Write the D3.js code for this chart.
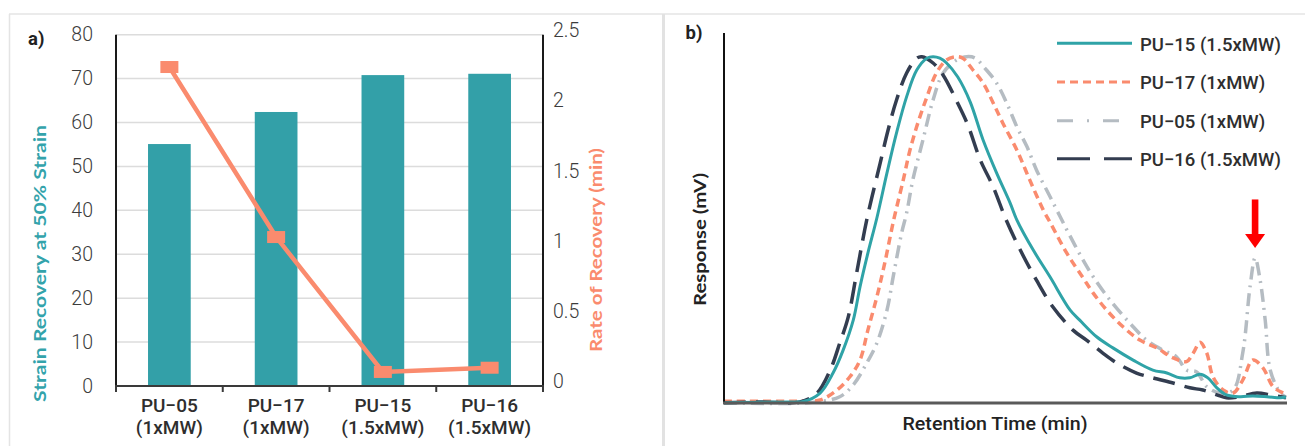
<!DOCTYPE html>
<html><head><meta charset="utf-8">
<script src="https://cdn.jsdelivr.net/npm/d3@7"></script>
<style>body{margin:0;background:#fff}svg{display:block}</style>
</head><body>
<svg id="c" width="1305" height="446"></svg>
<script>
// ---------- Panel a) data ----------
const categories = ["PU−05", "PU−17", "PU−15", "PU−16"];
const categorySub = ["(1xMW)", "(1xMW)", "(1.5xMW)", "(1.5xMW)"];
const strainRecovery = [55.1, 62.4, 70.8, 71.1];      // left axis, bars
const rateOfRecovery = [2.27, 1.06, 0.10, 0.13];      // right axis, line
const leftTicks = [0, 10, 20, 30, 40, 50, 60, 70, 80];
const rightTicks = [0, 0.5, 1, 1.5, 2, 2.5];

// ---------- Panel b) data (retention time, response; arbitrary units) ----------
const pu15 = [[0,0.1],[11.7,0.3],[14.1,0.4],[17.1,2.7],[19.4,8.1],[21.2,14.3],[23.0,22.4],[24.2,31.4],[25.6,40.5],[27.2,50.0],[29.0,62.2],[30.7,73.0],[32.5,82.8],[34.3,90.0],[36.1,93.2],[37.2,93.6],[38.4,93.2],[39.6,91.9],[41.6,88.1],[43.8,81.4],[46.1,71.1],[48.5,62.2],[50.9,54.1],[52.1,49.5],[55.0,41.4],[58.0,34.1],[61.6,25.1],[63.3,22.4],[66.3,17.9],[69.2,14.9],[72.8,11.6],[76.3,8.9],[78.8,8.1],[81.1,6.8],[82.9,6.8],[84.7,7.8],[86.1,6.8],[87.7,4.1],[89.4,2.2],[91.8,1.7],[94.1,1.9],[96.6,1.7],[99.0,1.4],[100,1.6]];
const pu17 = [[0,0.5],[13.5,0.5],[17.1,0.8],[20.1,3.5],[22.4,7.1],[24.2,11.6],[25.6,19.7],[27.2,28.7],[28.6,37.8],[30.2,49.5],[31.9,60.3],[33.1,68.4],[34.5,75.7],[36.1,82.7],[37.8,89.2],[39.6,92.7],[41.3,93.6],[42.5,93.2],[44.3,90.0],[46.1,86.5],[47.9,81.1],[49.6,75.7],[52.1,68.4],[54.4,60.3],[56.8,52.2],[58.0,48.9],[61.0,40.5],[63.9,33.8],[65.7,29.7],[68.1,25.1],[71.0,20.6],[74.0,17.0],[77.0,14.9],[79.9,12.2],[82.3,11.2],[83.5,13.5],[84.7,16.4],[85.9,13.5],[87.0,7.1],[88.8,3.5],[90.6,2.7],[92.3,6.2],[94.1,11.6],[95.9,9.5],[97.7,4.4],[99.5,2.7],[100,2.4]];
const pu05 = [[0,0.1],[15.3,0.1],[20.6,1.7],[23.0,4.9],[25.4,10.8],[27.2,16.2],[29.0,25.1],[30.1,34.1],[31.6,45.9],[32.5,51.4],[33.6,60.3],[35.4,71.1],[37.2,81.9],[39.0,89.2],[41.4,92.7],[43.2,93.6],[44.7,93.2],[46.7,90.0],[48.5,86.5],[50.3,81.1],[52.1,74.7],[53.9,69.3],[55.6,63.0],[58.0,55.8],[59.8,50.4],[61.0,46.8],[63.9,38.6],[65.7,34.1],[68.7,27.8],[72.8,20.6],[75.2,17.0],[78.1,14.3],[80.5,12.5],[82.3,8.9],[84.1,8.4],[85.9,4.4],[88.3,2.7],[90.6,3.5],[92.3,13.5],[93.6,31.4],[94.5,39.2],[95.4,33.2],[96.3,22.4],[97.2,8.9],[99.0,2.7],[100,1.6]];
const pu16 = [[0,0.1],[6.4,0.3],[13.5,0.3],[16.5,2.6],[18.9,8.9],[20.6,16.2],[22.1,23.2],[23.6,35.1],[25.4,49.5],[27.8,64.9],[29.2,73.8],[30.7,81.9],[32.5,89.2],[34.3,93.2],[35.2,93.6],[37.2,91.9],[39.0,88.6],[41.4,81.6],[43.4,75.1],[45.6,65.7],[47.9,58.4],[50.2,49.5],[52.7,41.4],[55.6,33.2],[58.5,26.0],[62.1,19.7],[64.5,17.0],[67.4,13.5],[69.9,10.8],[73.4,8.1],[76.3,6.8],[79.9,5.4],[82.9,4.1],[85.2,3.5],[87.7,2.2],[89.4,1.4],[91.8,1.7],[94.8,2.7],[97.2,2.2],[100,1.4]];
const seriesNames = ["PU−15 (1.5xMW)", "PU−17 (1xMW)", "PU−05 (1xMW)", "PU−16 (1.5xMW)"];
const seriesData = [pu15, pu17, pu05, pu16];
const seriesColors = ["#2fa3a7", "#fa8b6e", "#b5bcc2", "#333d50"];
const seriesDash = [null, "8,5", "13,6,2,6", "22,10"];
const legendDash = [null, "8,5", "16,14,2,14", "33,14"];
const arrowTarget = [94.5, 39.2]; // small-molecule peak of PU-05

const FONT = "Roboto, 'Liberation Sans', sans-serif";
const TITLE_FONT = "Lato, 'Open Sans', sans-serif";
const svg = d3.select("#c");

// frame
svg.append("line").attr("x1", 9).attr("x2", 1305).attr("y1", 14).attr("y2", 14).attr("stroke", "#e4e4e4").attr("stroke-width", 1.5);
svg.append("line").attr("x1", 9.5).attr("x2", 9.5).attr("y1", 14).attr("y2", 446).attr("stroke", "#e4e4e4").attr("stroke-width", 1.5);
svg.append("line").attr("x1", 663.5).attr("x2", 663.5).attr("y1", 14).attr("y2", 446).attr("stroke", "#e2e2e2").attr("stroke-width", 3);

// ================= Panel a =================
const xA = d3.scaleBand().domain(categories).range([116, 543]).padding(0);
const yL = d3.scaleLinear().domain([0, 80]).range([386, 34.7]);
const yR = d3.scaleLinear().domain([0, 2.5]).range([386, 34.7]);
const gA = svg.append("g");

gA.selectAll(".grid").data(leftTicks.filter(d => d > 0)).join("line")
  .attr("x1", 116).attr("x2", 543).attr("y1", d => yL(d)).attr("y2", d => yL(d))
  .attr("stroke", "#dcdcdc").attr("stroke-width", 1.5);

const bw = xA.bandwidth();
gA.selectAll(".bar").data(strainRecovery).join("rect")
  .attr("x", (d, i) => xA(categories[i]) + bw * 0.3)
  .attr("width", bw * 0.4)
  .attr("y", d => yL(d)).attr("height", d => yL(0) - yL(d))
  .attr("fill", "#33a0a8");

// axes lines
gA.append("line").attr("x1", 116).attr("x2", 116).attr("y1", 34.7).attr("y2", 392).attr("stroke", "#1a1a1a").attr("stroke-width", 2);
gA.append("line").attr("x1", 543).attr("x2", 543).attr("y1", 34.7).attr("y2", 392).attr("stroke", "#1a1a1a").attr("stroke-width", 2);
gA.append("line").attr("x1", 115).attr("x2", 544).attr("y1", 386).attr("y2", 386).attr("stroke", "#3a3a3a").attr("stroke-width", 2.2);
const bounds = categories.map(c => xA(c)).concat([xA.range()[1]]);
gA.selectAll(".xt").data(bounds).join("line")
  .attr("x1", d => d).attr("x2", d => d).attr("y1", 386).attr("y2", 392)
  .attr("stroke", "#3a3a3a").attr("stroke-width", 2);

// left tick labels
const axL = gA.append("g").attr("transform", "translate(116,0)")
  .call(d3.axisLeft(yL).tickValues(leftTicks).tickSize(0).tickPadding(23).tickFormat(d3.format("")));
axL.select(".domain").remove();
axL.selectAll("text").attr("font-family", FONT).attr("font-size", 19.5).attr("font-weight", 300).attr("fill", "#3c3c3c");
// right tick labels
const axR = gA.append("g").attr("transform", "translate(543,0)")
  .call(d3.axisRight(yR).tickValues(rightTicks).tickSize(0).tickPadding(10).tickFormat(d3.format("")));
axR.select(".domain").remove();
axR.selectAll("text").attr("font-family", FONT).attr("font-size", 19.5).attr("font-weight", 300).attr("fill", "#3c3c3c").attr("dy", "0.1em");

// category labels
const catG = gA.selectAll(".cat").data(categories).join("g")
  .attr("transform", c => `translate(${xA(c) + bw / 2},0)`);
catG.append("text").attr("y", 411.5).attr("text-anchor", "middle").text(d => d)
  .attr("font-family", FONT).attr("font-size", 19).attr("font-weight", 500).attr("fill", "#2e2e2e");
catG.append("text").attr("y", 433.5).attr("text-anchor", "middle").text((d, i) => categorySub[i])
  .attr("font-family", FONT).attr("font-size", 19).attr("font-weight", 500).attr("fill", "#2e2e2e");

// line series
const lineA = d3.line().x((d, i) => xA(categories[i]) + bw / 2).y(d => yR(d));
gA.append("path").datum(rateOfRecovery).attr("d", lineA)
  .attr("fill", "none").attr("stroke", "#fa8b6e").attr("stroke-width", 4.5);
gA.selectAll(".mk").data(rateOfRecovery).join("rect")
  .attr("x", (d, i) => xA(categories[i]) + bw / 2 - 9).attr("y", d => yR(d) - 6)
  .attr("width", 18).attr("height", 12).attr("fill", "#fa8b6e");

// titles
gA.append("text").attr("transform", "translate(46,263.5) rotate(-90)").attr("text-anchor", "middle")
  .attr("font-family", TITLE_FONT).attr("font-weight", 700).attr("font-size", 17.5).attr("fill", "#33a3ab")
  .attr("textLength", 277).attr("lengthAdjust", "spacingAndGlyphs")
  .text("Strain Recovery at 50% Strain");
gA.append("text").attr("transform", "translate(602,250) rotate(-90)").attr("text-anchor", "middle")
  .attr("font-family", TITLE_FONT).attr("font-weight", 700).attr("font-size", 17.5).attr("fill", "#fa8b6e")
  .attr("textLength", 204).attr("lengthAdjust", "spacingAndGlyphs")
  .text("Rate of Recovery (min)");
gA.append("text").attr("x", 28).attr("y", 45).attr("font-family", FONT).attr("font-weight", 700)
  .attr("font-size", 18.5).attr("fill", "#222").text("a)");

// ================= Panel b =================
const xB = d3.scaleLinear().domain([0, 100]).range([724, 1286]);
const yB = d3.scaleLinear().domain([0, 100]).range([403, 33]);
const gB = svg.append("g");

const lineB = d3.line().x(d => xB(d[0])).y(d => yB(d[1])).curve(d3.curveCatmullRom.alpha(0.5));
const drawOrder = [2, 1, 3, 0];
drawOrder.forEach(i => {
  gB.append("path").datum(seriesData[i]).attr("d", lineB)
    .attr("fill", "none").attr("stroke", seriesColors[i])
    .attr("stroke-width", i === 0 ? 3 : 3.5)
    .attr("stroke-dasharray", seriesDash[i])
    .attr("stroke-linejoin", "round");
});

// axes
gB.append("line").attr("x1", 724).attr("x2", 724).attr("y1", 33).attr("y2", 404).attr("stroke", "#111").attr("stroke-width", 2);
gB.append("line").attr("x1", 723).attr("x2", 1287).attr("y1", 403).attr("y2", 403).attr("stroke", "#5a5a5a").attr("stroke-width", 3);

// legend
const legY = [43.3, 82, 120.7, 158.7];
seriesNames.forEach((n, i) => {
  gB.append("line").attr("x1", 1057).attr("x2", 1132).attr("y1", legY[i]).attr("y2", legY[i])
    .attr("stroke", seriesColors[i]).attr("stroke-width", 3).attr("stroke-dasharray", legendDash[i]);
  gB.append("text").attr("x", 1140).attr("y", legY[i] + 7.4).text(n)
    .attr("font-family", FONT).attr("font-size", 18.5).attr("font-weight", 500).attr("fill", "#2e2e2e");
});

// red arrow pointing to PU-05 late peak
const ax = xB(arrowTarget[0]), tipY = yB(arrowTarget[1]) - 10;
gB.append("rect").attr("x", ax - 3.3).attr("y", tipY - 48.5).attr("width", 6.6).attr("height", 36).attr("fill", "#ff0000");
gB.append("path").attr("d", `M${ax - 10},${tipY - 14} L${ax + 10},${tipY - 14} L${ax},${tipY} Z`).attr("fill", "#ff0000");

// titles
gB.append("text").attr("transform", "translate(706,239.5) rotate(-90)").attr("text-anchor", "middle")
  .attr("font-family", TITLE_FONT).attr("font-weight", 700).attr("font-size", 17.5).attr("fill", "#222")
  .attr("textLength", 133).attr("lengthAdjust", "spacingAndGlyphs")
  .text("Response (mV)");
gB.append("text").attr("x", 995).attr("y", 430).attr("text-anchor", "middle")
  .attr("font-family", FONT).attr("font-weight", 500).attr("font-size", 19).attr("fill", "#222")
  .attr("textLength", 185).attr("lengthAdjust", "spacingAndGlyphs")
  .text("Retention Time (min)");
gB.append("text").attr("x", 685.5).attr("y", 39).attr("font-family", FONT).attr("font-weight", 700)
  .attr("font-size", 18.5).attr("fill", "#222").text("b)");
</script>
</body></html>
